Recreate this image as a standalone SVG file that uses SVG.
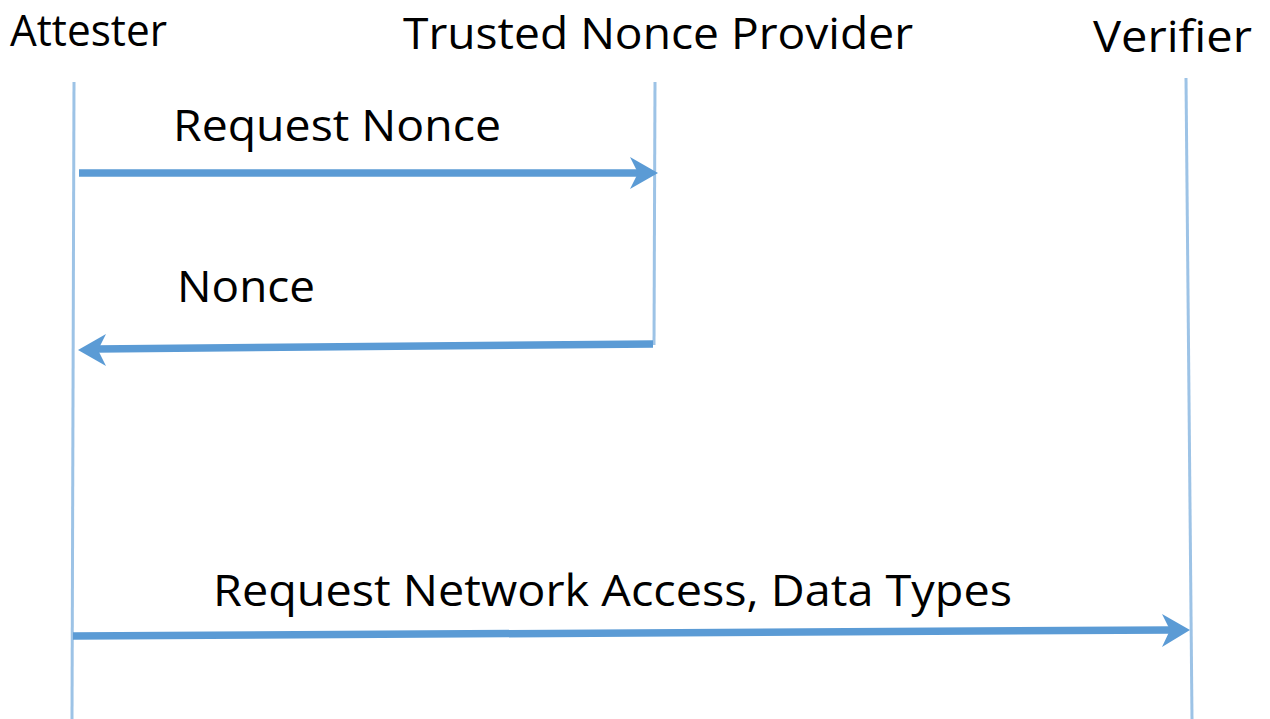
<svg xmlns="http://www.w3.org/2000/svg" width="1270" height="719" viewBox="0 0 1270 719">
<defs>
<style>
.t{font-family:"Open Sans","Noto Sans","Liberation Sans",sans-serif;font-size:43px;fill:#000}
.life{stroke:#9DC3E6;stroke-width:3;fill:none}
.msg{stroke:#5B9BD5;stroke-width:7.5;fill:none}
.head{fill:#5B9BD5}
</style>
</defs>
<rect width="1270" height="719" fill="#fff"/>
<g id="attester">
<text class="t" x="10" y="46" textLength="157" lengthAdjust="spacingAndGlyphs">Attester</text>
<line class="life" x1="74" y1="82" x2="72" y2="719"/>
</g>
<g id="nonce-provider">
<text class="t" x="403" y="49" textLength="510" lengthAdjust="spacingAndGlyphs">Trusted Nonce Provider</text>
<line class="life" x1="655" y1="82" x2="654" y2="345"/>
</g>
<g id="verifier">
<text class="t" x="1093" y="52" textLength="159" lengthAdjust="spacingAndGlyphs">Verifier</text>
<line class="life" x1="1186" y1="78" x2="1192" y2="719"/>
</g>
<g id="connectors">
<g id="msg1">
<line class="msg" x1="79" y1="173" x2="640" y2="173"/>
<polygon class="head" points="658,173 630,157 638,173 630,189"/>
<text class="t" x="173" y="141" textLength="328" lengthAdjust="spacingAndGlyphs">Request Nonce</text>
</g>
<g id="msg2">
<line class="msg" x1="653" y1="344" x2="96" y2="349"/>
<polygon class="head" points="78,350 106,334 98,350 106,366"/>
<text class="t" x="177" y="302" textLength="138" lengthAdjust="spacingAndGlyphs">Nonce</text>
</g>
<g id="msg3">
<line class="msg" x1="73" y1="636" x2="1172" y2="630"/>
<polygon class="head" points="1190,630 1162,614 1170,630 1162,647"/>
<text class="t" x="213" y="606" textLength="799" lengthAdjust="spacingAndGlyphs">Request Network Access, Data Types</text>
</g>
</g>
</svg>
